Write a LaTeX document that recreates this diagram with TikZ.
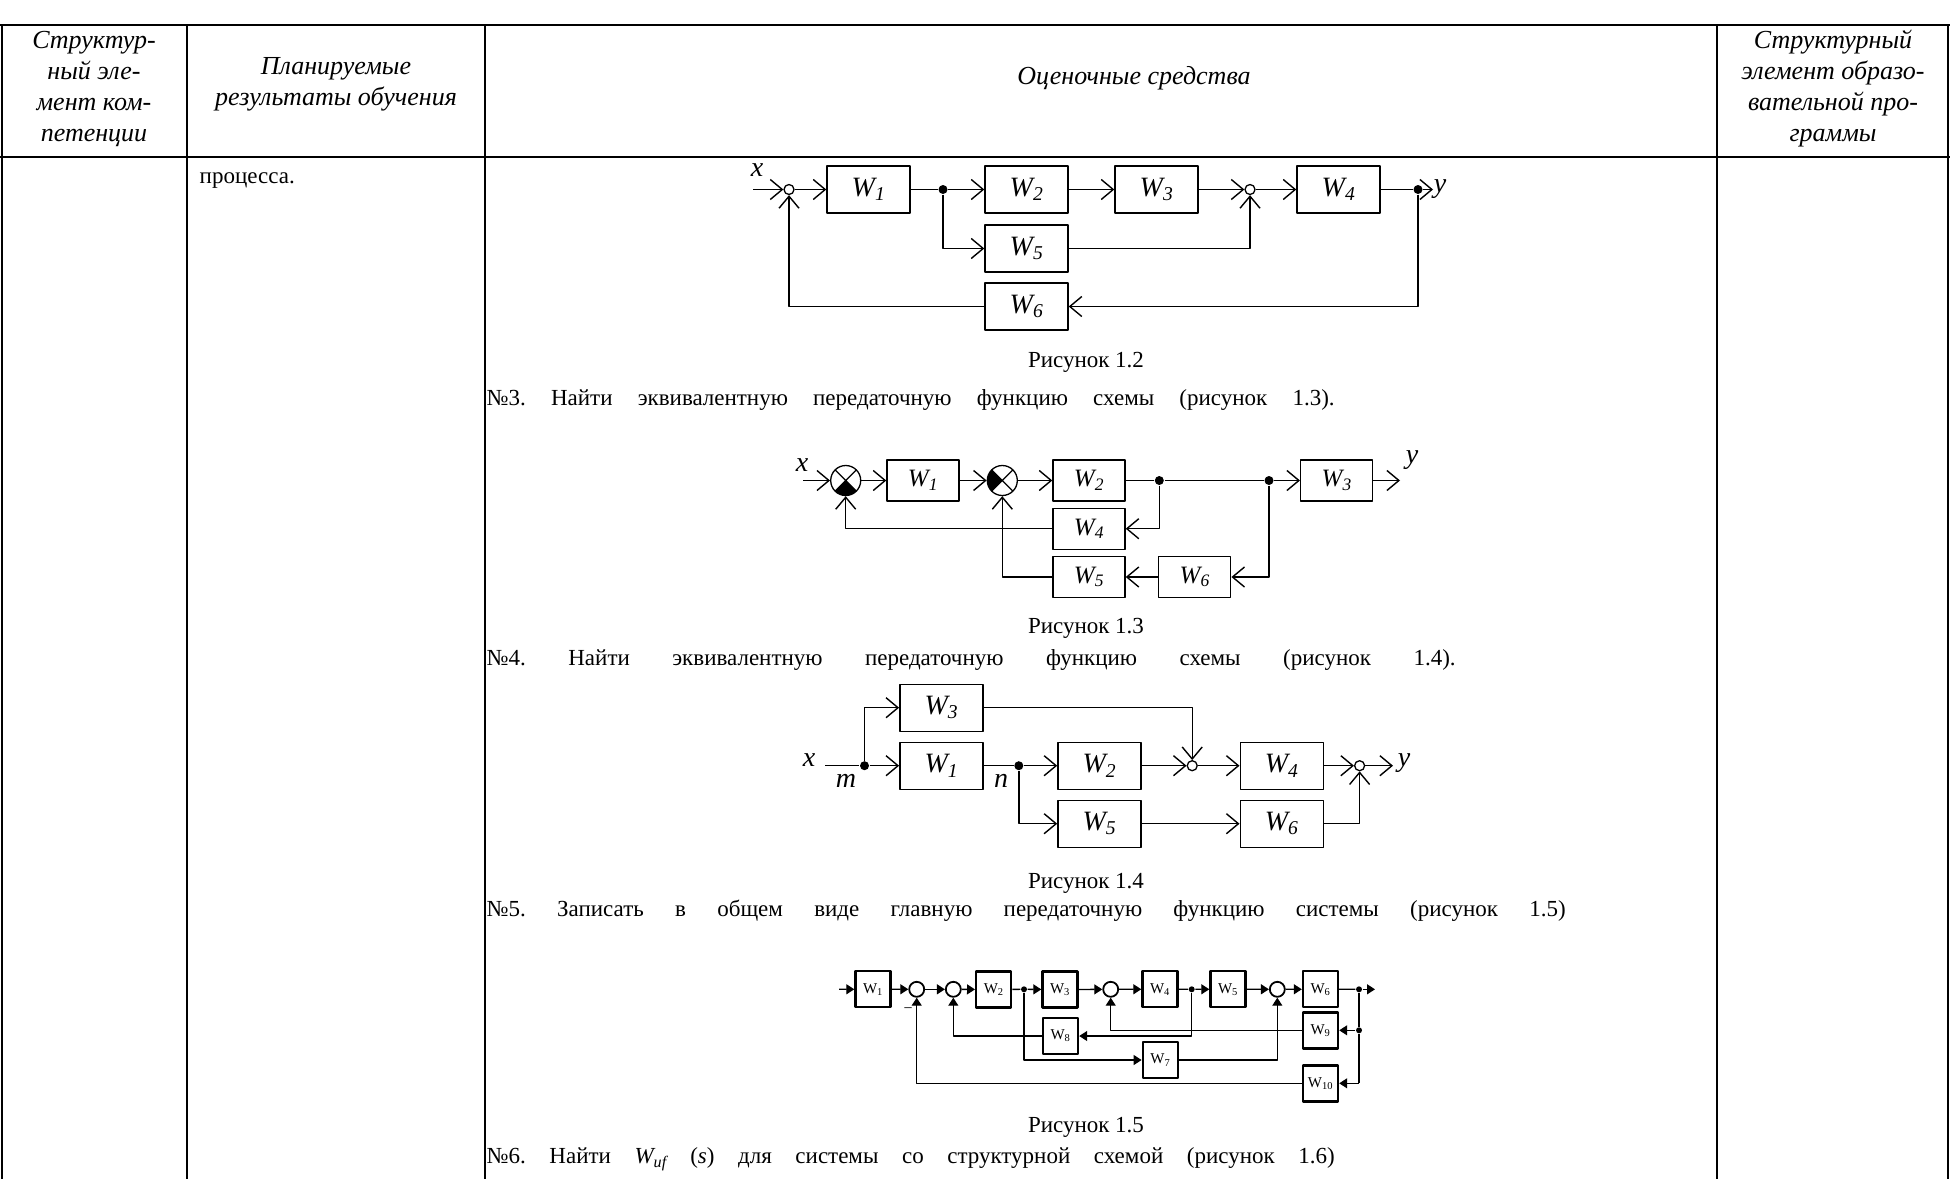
\documentclass[tikz,border=0pt]{standalone}
\usepackage{fontspec}
\setmainfont{Liberation Serif}
\usetikzlibrary{arrows.meta,positioning}
\frenchspacing
\newcommand{\Wi}[1]{\textit{W\textsubscript{#1}}}
\newcommand{\Wu}[1]{W\textsubscript{#1}}
\tikzset{
  blk/.style={draw,line width=1.4pt,inner sep=0pt,minimum width=83pt,minimum height=47pt,font=\fontsize{28}{28}\selectfont},
  blkb/.style={blk,minimum width=72pt,minimum height=41pt,font=\fontsize{25}{25}\selectfont},
  blkd/.style={draw,line width=2.4pt,inner sep=0pt,minimum width=35pt,minimum height=36pt,font=\fontsize{15}{15}\selectfont},
  sm/.style={circle,draw,line width=1.3pt,minimum size=10pt,inner sep=0pt},
  smd/.style={circle,draw,line width=1.8pt,minimum size=15pt,inner sep=0pt},
  sxb/.style={circle,draw,line width=1.3pt,minimum size=30pt,inner sep=0pt,
    path picture={\fill (path picture bounding box.center)--(path picture bounding box.south west)--(path picture bounding box.south east)--cycle;
      \draw (path picture bounding box.south west)--(path picture bounding box.north east)
            (path picture bounding box.north west)--(path picture bounding box.south east);}},
  sxl/.style={circle,draw,line width=1.3pt,minimum size=30pt,inner sep=0pt,
    path picture={\fill (path picture bounding box.center)--(path picture bounding box.south west)--(path picture bounding box.north west)--cycle;
      \draw (path picture bounding box.south west)--(path picture bounding box.north east)
            (path picture bounding box.north west)--(path picture bounding box.south east);}},
  dot/.style={circle,fill,minimum size=9pt,inner sep=0pt},
  dotd/.style={circle,fill,minimum size=6pt,inner sep=0pt},
  barb/.style={-{Straight Barb[length=12pt,width=20pt]}},
  tri/.style={-{Triangle[length=8pt,width=10pt]}},
  lbl/.style={font=\fontsize{28}{28}\selectfont\itshape,inner sep=0pt},
  txt/.style={font=\fontsize{23}{27}\selectfont,inner sep=0pt},
  hd/.style={font=\fontsize{26}{31}\selectfont\itshape,align=center,inner sep=0pt}
}
\begin{document}
\begin{tikzpicture}[x=1pt,y=-1pt,line join=round,line width=1.4pt]
\useasboundingbox (0,0) rectangle (1950,1179);
% table
\draw[line width=2.5pt] (0,25)--(1950,25) (0,157)--(1950,157);
\foreach \cx in {2,187,485,1717,1948} \draw[line width=1.5pt] (\cx,25)--(\cx,1179);
\node[hd] (h1) at (94,89) {Структур-\\ный эле-\\мент ком-\\петенции};
\node[hd] (h2) at (336,84) {Планируемые\\результаты обучения};
\node[hd] (h3) at (1134,78) {Оценочные средства};
\node[hd] (h4) at (1833,89) {Структурный\\элемент образо-\\вательной про-\\граммы};
\node[txt,anchor=west] (t0) at (199,181) {процесса.};

% Рисунок 1.2
\node[blk] (a1) at (868.5,189.5) {\Wi{1}};
\node[blk] (a2) at (1026.5,189.5) {\Wi{2}};
\node[blk] (a3) at (1156.5,189.5) {\Wi{3}};
\node[blk] (a4) at (1338.5,189.5) {\Wi{4}};
\node[blk] (a5) at (1026.5,248.5) {\Wi{5}};
\node[blk] (a6) at (1026.5,306.5) {\Wi{6}};
\node[sm] (as1) at (789,189.5) {};
\node[sm] (as2) at (1250,189.5) {};
\node[dot] (ad1) at (943,189.5) {};
\node[dot] (ad2) at (1418,189.5) {};
\coordinate (ain) at (753,189.5);
\coordinate (aout) at (1433,189.5);
\node[lbl] (ax) at (757,170) {x};
\node[lbl] (ay) at (1440,189) {y};
\draw[barb] (ain) -- (as1);
\draw[barb] (as1) -- (a1);
\draw (a1) -- (ad1);
\draw[barb] (ad1) -- (a2);
\draw[barb] (a2) -- (a3);
\draw[barb] (a3) -- (as2);
\draw[barb] (as2) -- (a4);
\draw (a4) -- (ad2);
\draw[barb] (ad2) -- (aout);
\draw[barb] (ad1) |- (a5);
\draw[barb] (a5) -| (as2);
\draw[barb] (ad2) |- (a6);
\draw[barb] (a6) -| (as1);
\node[txt] (c12) at (1086,362) {Рисунок 1.2};
\node[txt,anchor=west] (q3) at (486,400) {\makebox[848pt][s]{№3. Найти эквивалентную передаточную функцию схемы (рисунок 1.3).}};

% Рисунок 1.3
\node[sxb] (bs1) at (845.7,480.5) {};
\node[sxl] (bs2) at (1002.3,480.5) {};
\node[blkb] (b1) at (923,480.5) {\Wi{1}};
\node[blkb] (b2) at (1089,480.5) {\Wi{2}};
\node[blkb] (b3) at (1336.7,480.5) {\Wi{3}};
\node[blkb] (b4) at (1089,528.7) {\Wi{4}};
\node[blkb] (b5) at (1089,577) {\Wi{5}};
\node[blkb] (b6) at (1194.7,577) {\Wi{6}};
\node[dot] (bd1) at (1159.3,480.5) {};
\node[dot] (bd2) at (1269,480.5) {};
\coordinate (bin) at (803,480.5);
\coordinate (bout) at (1400,480.5);
\node[lbl] (bx) at (802,465) {x};
\node[lbl] (by) at (1412,460) {y};
\draw[barb] (bin) -- (bs1);
\draw[barb] (bs1) -- (b1);
\draw[barb] (b1) -- (bs2);
\draw[barb] (bs2) -- (b2);
\draw (b2) -- (bd1) -- (bd2);
\draw[barb] (bd2) -- (b3);
\draw[barb] (b3) -- (bout);
\draw[barb] (bd1) |- (b4);
\draw[barb] (b4) -| (bs1);
\draw[barb] (bd2) |- (b6);
\draw[barb] (b6) -- (b5);
\draw[barb] (b5) -| (bs2);
\node[txt] (c13) at (1086,628) {Рисунок 1.3};
\node[txt,anchor=west] (q4) at (486,660) {\makebox[969pt][s]{№4. Найти эквивалентную передаточную функцию схемы (рисунок 1.4).}};

% Рисунок 1.4
\node[blk] (c3) at (941.3,707.7) {\Wi{3}};
\node[blk] (c1) at (941.3,765.7) {\Wi{1}};
\node[blk] (c2) at (1099.4,765.7) {\Wi{2}};
\node[blk] (c4) at (1281.7,765.7) {\Wi{4}};
\node[blk] (c5) at (1099.4,823.7) {\Wi{5}};
\node[blk] (c6) at (1281.7,823.7) {\Wi{6}};
\node[dot] (cm) at (864.5,765.7) {};
\node[dot] (cn) at (1018.8,765.7) {};
\node[sm] (cs1) at (1192.2,765.7) {};
\node[sm] (cs2) at (1359.6,765.7) {};
\coordinate (cin) at (825,765.7);
\coordinate (cout) at (1393,765.7);
\node[lbl] (cx) at (809,760) {x};
\node[lbl] (cml) at (846,781) {m};
\node[lbl] (cnl) at (1001,781) {n};
\node[lbl] (cy) at (1404,763) {y};
\draw (cin) -- (cm);
\draw[barb] (cm) -- (c1);
\draw (c1) -- (cn);
\draw[barb] (cn) -- (c2);
\draw[barb] (c2) -- (cs1);
\draw[barb] (cs1) -- (c4);
\draw[barb] (c4) -- (cs2);
\draw[barb] (cs2) -- (cout);
\draw[barb] (cm) |- (c3);
\draw[barb] (c3) -| (cs1);
\draw[barb] (cn) |- (c5);
\draw[barb] (c5) -- (c6);
\draw[barb] (c6) -| (cs2);
\node[txt] (c14) at (1086,883) {Рисунок 1.4};
\node[txt,anchor=west] (q5) at (486,911) {\makebox[1079pt][s]{№5. Записать в общем виде главную передаточную функцию системы (рисунок 1.5)}};

% Рисунок 1.5
\begin{scope}[line width=1.3pt]
\node[blkd] (d1) at (873,989.2) {\Wu{1}};
\node[blkd] (d2) at (993.7,989.5) {\Wu{2}};
\node[blkd] (d3) at (1060,989.5) {\Wu{3}};
\node[blkd] (d4) at (1160,989.2) {\Wu{4}};
\node[blkd] (d5) at (1228,989.2) {\Wu{5}};
\node[blkd] (d6) at (1320.5,989.2) {\Wu{6}};
\node[blkd] (d8) at (1060.5,1036) {\Wu{8}};
\node[blkd] (d7) at (1160.3,1060) {\Wu{7}};
\node[blkd] (d9) at (1320.5,1030.3) {\Wu{9}};
\node[blkd] (d10) at (1320.5,1083.3) {\Wu{10}};
\node[smd] (ds1) at (916.7,989.3) {};
\node[smd] (ds2) at (953.3,989.3) {};
\node[smd] (ds3) at (1110.7,989.3) {};
\node[smd] (ds4) at (1277.3,989.3) {};
\node[dotd] (dd1) at (1024,989.3) {};
\node[dotd] (dd2) at (1191.7,989.3) {};
\node[dotd] (dd3) at (1359,989.3) {};
\node[dotd] (dd4) at (1359,1030.3) {};
\coordinate (din) at (839,989.3);
\coordinate (dout) at (1375,989.3);
\coordinate (dbot) at (1359,1083.3);
\node[txt] (dminus) at (908,1011) {\fontsize{16}{16}\selectfont −};
\draw[tri] (din) -- (d1);
\draw[tri] (d1) -- (ds1);
\draw[tri] (ds1) -- (ds2);
\draw[tri] (ds2) -- (d2);
\draw (d2) -- (dd1);
\draw[tri] (dd1) -- (d3);
\draw[tri] (d3) -- (ds3);
\draw[tri] (ds3) -- (d4);
\draw (d4) -- (dd2);
\draw[tri] (dd2) -- (d5);
\draw[tri] (d5) -- (ds4);
\draw[tri] (ds4) -- (d6);
\draw (d6) -- (dd3);
\draw[tri] (dd3) -- (dout);
\draw (dd3) -- (dd4) -- (dbot);
\draw[tri] (dd4) -- (d9);
\draw[tri] (dbot) -- (d10);
\draw[tri] (d9) -| (ds3);
\draw[tri] (dd2) |- (d8);
\draw[tri] (d8) -| (ds2);
\draw[tri] (dd1) |- (d7);
\draw[tri] (d7) -| (ds4);
\draw[tri] (d10) -| (ds1);
\end{scope}
\node[txt] (c15) at (1086,1127) {Рисунок 1.5};
\node[txt,anchor=west] (q6) at (486,1159) {\makebox[848pt][s]{№6. Найти \textit{W\textsubscript{uf}} (\textit{s}) для системы со структурной схемой (рисунок 1.6)}};
\end{tikzpicture}
\end{document}
